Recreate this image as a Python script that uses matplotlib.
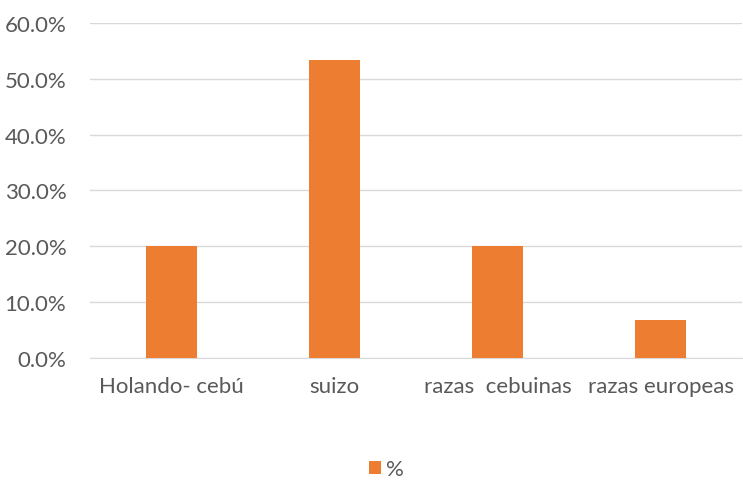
import matplotlib.pyplot as plt
from matplotlib.ticker import FuncFormatter

categories = ['Holando- cebú', 'suizo', 'razas  cebuinas', 'razas europeas']
values = [0.200, 0.533, 0.200, 0.067]
series_name = '%'

plt.rcParams['font.family'] = ['Lato', 'DejaVu Sans']

fig = plt.figure(figsize=(7.43, 4.81), dpi=100)
ax = fig.add_axes([0.121, 0.254, 0.878, 0.696])

x = range(len(categories))
ax.bar(x, values, width=0.31, color='#ED7D31', label=series_name, zorder=3)

ax.set_xlim(-0.5, len(categories) - 0.5)
ax.set_ylim(0, 0.6)
ax.set_yticks([i / 10 for i in range(7)])
ax.yaxis.set_major_formatter(FuncFormatter(lambda v, p: f'{v * 100:.1f}%'))
ax.set_xticks(list(x))
ax.set_xticklabels(categories)

ax.grid(axis='y', color='#D9D9D9', linewidth=1, zorder=0)
for s in ['top', 'right', 'left']:
    ax.spines[s].set_visible(False)
ax.spines['bottom'].set_color('#D9D9D9')
ax.tick_params(axis='both', length=0, labelsize=16, colors='#595959')
ax.tick_params(axis='x', pad=13)
ax.tick_params(axis='y', pad=17)

fig.legend(loc='lower center', bbox_to_anchor=(0.52, -0.04), frameon=False,
           fontsize=16, handlelength=0.55, handleheight=0.55, handletextpad=0.2,
           labelcolor='#595959')

fig.savefig('out.png', dpi=100)
